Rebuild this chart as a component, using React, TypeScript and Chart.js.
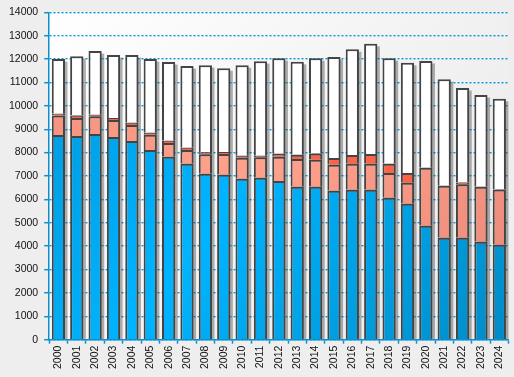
import React, { useEffect, useRef } from "react";
import { Chart, registerables } from "chart.js";
Chart.register(...registerables);

const years = ["2000","2001","2002","2003","2004","2005","2006","2007","2008","2009","2010","2011","2012","2013","2014","2015","2016","2017","2018","2019","2020","2021","2022","2023","2024"];
const blueSeries = [8750,8710,8800,8670,8500,8110,7820,7520,7090,7050,6880,6920,6790,6540,6540,6370,6410,6410,6070,5810,4870,4360,4360,4190,4060];
const salmonSeries = [840,770,750,720,680,650,590,590,840,890,900,880,1030,1190,1150,1110,1110,1110,1060,900,2480,2220,2290,2350,2360];
const redSeries = [70,110,70,90,100,90,100,100,80,90,90,70,130,180,270,290,380,420,390,420,0,0,70,0,0];
const whiteSeries = [2340,2530,2720,2690,2890,3150,3360,3490,3730,3580,3870,4040,4090,3970,4080,4320,4520,4710,4520,4710,4570,4560,4040,3920,3880];

const AXIS_BLUE = "#0a8fd0";
const GRID_BLUE = "#0096dc";
const FONT = { family: "'Liberation Sans', Arial, sans-serif", size: 10.5 };

function hGrad(chart: any, stops: [number, string][], fallback: string) {
  const ca = chart.chartArea;
  if (!ca) return fallback;
  const g = chart.ctx.createLinearGradient(ca.left, ca.top, ca.right, ca.bottom);
  stops.forEach(([o, c]) => g.addColorStop(o, c));
  return g;
}

const bgPlugin = {
  id: "plotBg",
  beforeDraw(chart: any) {
    const { ctx, chartArea: ca } = chart;
    ctx.save();
    const g = ctx.createLinearGradient(ca.left, ca.top, ca.right, ca.bottom);
    g.addColorStop(0, "#ffffff");
    g.addColorStop(1, "#e9e9e9");
    ctx.fillStyle = g;
    ctx.fillRect(ca.left, ca.top, ca.right - ca.left, ca.bottom - ca.top);
    ctx.restore();
  },
};

const shadowPlugin = {
  id: "barShadow",
  beforeDatasetsDraw(chart: any) {
    const { ctx } = chart;
    const n = chart.data.datasets.length;
    const topMeta = chart.getDatasetMeta(n - 1);
    const baseMeta = chart.getDatasetMeta(0);
    ctx.save();
    ctx.fillStyle = "rgba(60,60,60,0.4)";
    topMeta.data.forEach((el: any, i: number) => {
      const b = baseMeta.data[i] as any;
      const w = el.width;
      const top = el.y;
      const base = b.base;
      ctx.fillRect(el.x - w / 2 + 2.5, top + 2.5, w, base - top - 2.5);
    });
    ctx.restore();
  },
};

export default function App() {
  const ref = useRef<HTMLCanvasElement>(null);
  useEffect(() => {
    if (!ref.current) return;
    const common = {
      borderColor: "#444444",
      borderWidth: 2,
      categoryPercentage: 1,
      barPercentage: 0.72,
      borderSkipped: "start" as const,
    };
    const chart = new Chart(ref.current, {
      type: "bar",
      data: {
        labels: years,
        datasets: [
          {
            label: "A",
            data: blueSeries,
            backgroundColor: (c: any) =>
              hGrad(c.chart, [[0, "#0096d8"], [0.45, "#00b4ff"], [1, "#008cc8"]], "#00a8f0"),
            ...common,
          },
          {
            label: "B",
            data: salmonSeries,
            backgroundColor: (c: any) =>
              hGrad(c.chart, [[0, "#f48f7c"], [0.45, "#ffa28c"], [1, "#ea8878"]], "#ff9c88"),
            ...common,
          },
          {
            label: "C",
            data: redSeries,
            backgroundColor: "#ff6347",
            ...common,
          },
          {
            label: "D",
            data: whiteSeries,
            backgroundColor: "#ffffff",
            ...common,
          },
        ],
      },
      options: {
        animation: false,
        responsive: false,
        maintainAspectRatio: false,
        layout: { padding: { top: 12, right: 4, left: 3, bottom: 6 } },
        plugins: { legend: { display: false }, tooltip: { enabled: false } },
        scales: {
          x: {
            stacked: true,
            grid: {
              offset: true,
              drawOnChartArea: false,
              drawTicks: true,
              tickLength: 4,
              color: AXIS_BLUE,
              tickColor: AXIS_BLUE,
              tickWidth: 1.5,
            },
            border: { display: true, color: AXIS_BLUE, width: 1.5 },
            ticks: {
              minRotation: 90,
              maxRotation: 90,
              color: "#111111",
              font: FONT,
              padding: 2,
              autoSkip: false,
            },
          },
          y: {
            stacked: true,
            min: 0,
            max: 14000,
            grid: {
              color: GRID_BLUE,
              lineWidth: 1.4,
              drawTicks: true,
              tickLength: 5,
              tickColor: AXIS_BLUE,
              tickWidth: 1.5,
              tickBorderDash: [],
            },
            border: { display: true, color: AXIS_BLUE, width: 1.5, dash: [2, 2] },
            ticks: {
              stepSize: 1000,
              color: "#111111",
              font: FONT,
              padding: 6,
              callback: (v: any) => String(v),
            },
          },
        },
      },
      plugins: [bgPlugin, shadowPlugin],
    });
    return () => chart.destroy();
  }, []);
  return (
    <div style={{ position: "fixed", left: 0, top: 0, width: 514, height: 377, background: "#eeeeee" }}>
      <canvas ref={ref} width={514} height={377} style={{ display: "block", width: 514, height: 377 }} />
    </div>
  );
}
